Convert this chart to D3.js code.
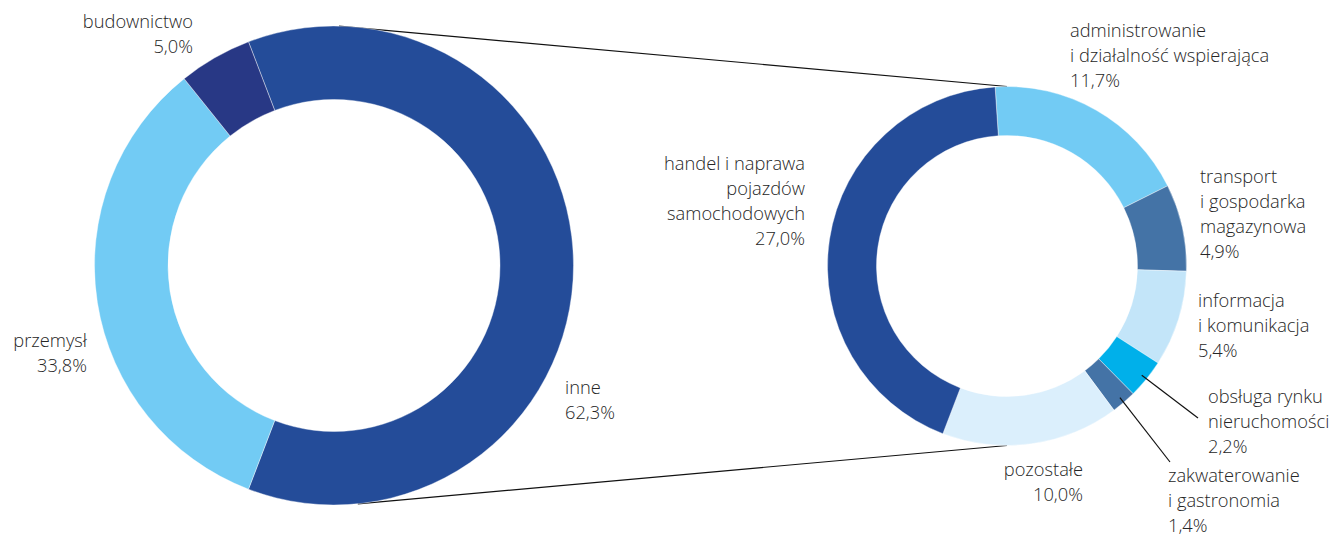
<!DOCTYPE html>
<html>
<head>
<meta charset="utf-8">
<script src="https://cdn.jsdelivr.net/npm/d3@7"></script>
<style>
    body { margin: 0; background: #fff; }
    svg text { font-family: 'Open Sans', sans-serif; font-weight: 300; font-size: 18.3px; fill: #262626; }
</style>
</head>
<body>
<svg id="chart" width="1336" height="537"></svg>
<script>
// left donut: whole economy
const mainLabels = [['inne'], ['przemysł'], ['budownictwo']]
const mainValues = [62.3, 33.8, 5.0]

// right donut: breakdown of "inne"
const detailLabels = [
    ['administrowanie', 'i działalność wspierająca'],
    ['transport', 'i gospodarka', 'magazynowa'],
    ['informacja', 'i komunikacja'],
    ['obsługa rynku', 'nieruchomości'],
    ['zakwaterowanie', 'i gastronomia'],
    ['pozostałe'],
    ['handel i naprawa', 'pojazdów', 'samochodowych']
]
const detailValues = [11.7, 4.9, 5.4, 2.2, 1.4, 10.0, 27.0]

const fmt = v => d3.format('.1f')(v).replace('.', ',') + '%'
const deg = Math.PI / 180

const svg = d3.select('#chart')

const left = {cx: 334, cy: 265.5, r0: 166, r1: 239.5}
const right = {cx: 1007, cy: 266, r0: 130.5, r1: 179.5}

const mainColors = ['#244c99', '#72cbf4', '#283885']
const detailColors = ['#72cbf4', '#4473a6', '#c3e5f9', '#00b0ea', '#4473a6', '#dbeffc', '#244c99']

// "inne" is centred on the right-hand side
const mainTotal = d3.sum(mainValues)
const inneSpan = mainValues[0] / mainTotal * 2 * Math.PI
const mainPie = d3.pie().sort(null).startAngle(Math.PI / 2 - inneSpan / 2).endAngle(Math.PI / 2 - inneSpan / 2 + 2 * Math.PI)
const detailPie = d3.pie().sort(null).startAngle(-3.8 * deg).endAngle(-3.8 * deg + 2 * Math.PI)

function drawDonut(g, pie, values, colors, geo) {
    const arc = d3.arc().innerRadius(geo.r0).outerRadius(geo.r1)
    g.attr('transform', `translate(${geo.cx},${geo.cy})`)
        .selectAll('path')
        .data(pie(values))
        .join('path')
        .attr('d', arc)
        .attr('fill', (d, i) => colors[i])
        .attr('stroke', '#fff')
        .attr('stroke-width', 0.4)
}

// connecting lines between the two donuts
const polar = (geo, a, r) => [geo.cx + r * Math.sin(a), geo.cy - r * Math.cos(a)]
const links = [[1.2 * deg, 0], [174.3 * deg, Math.PI]]
links.forEach(([a1, a2]) => {
    const p1 = polar(left, a1, left.r1)
    const p2 = polar(right, a2, right.r1)
    svg.append('line')
        .attr('x1', p1[0]).attr('y1', p1[1])
        .attr('x2', p2[0]).attr('y2', p2[1])
        .attr('stroke', '#111')
        .attr('stroke-width', 1.2)
})

drawDonut(svg.append('g'), mainPie, mainValues, mainColors, left)
drawDonut(svg.append('g'), detailPie, detailValues, detailColors, right)

// label placement: [x, first baseline, anchor]
const mainPos = [[565, 394, 'start'], [87, 347, 'end'], [193, 28, 'end']]
const detailPos = [
    [1070, 37, 'start'],
    [1200, 183, 'start'],
    [1198, 307, 'start'],
    [1208, 403, 'start'],
    [1168, 482, 'start'],
    [1083, 476, 'end'],
    [805, 170, 'end']
]
const LINE_H = 25

function drawLabels(labels, values, pos) {
    labels.forEach((lines, i) => {
        const [x, y, anchor] = pos[i]
        const t = svg.append('text').attr('text-anchor', anchor)
        lines.concat([fmt(values[i])]).forEach((s, j) => {
            t.append('tspan').attr('x', x).attr('y', y + j * LINE_H).text(s)
        })
    })
}
drawLabels(mainLabels, mainValues, mainPos)
drawLabels(detailLabels, detailValues, detailPos)

// leader lines for the two small slices
const leaders = [[3, 1198, 418], [4, 1170, 462]]
const detailArcs = detailPie(detailValues)
leaders.forEach(([i, x2, y2]) => {
    const a = (detailArcs[i].startAngle + detailArcs[i].endAngle) / 2
    const p = polar(right, a, right.r1 - 6)
    svg.append('line')
        .attr('x1', p[0]).attr('y1', p[1])
        .attr('x2', x2).attr('y2', y2)
        .attr('stroke', '#111')
        .attr('stroke-width', 1.2)
})
</script>
</body>
</html>
